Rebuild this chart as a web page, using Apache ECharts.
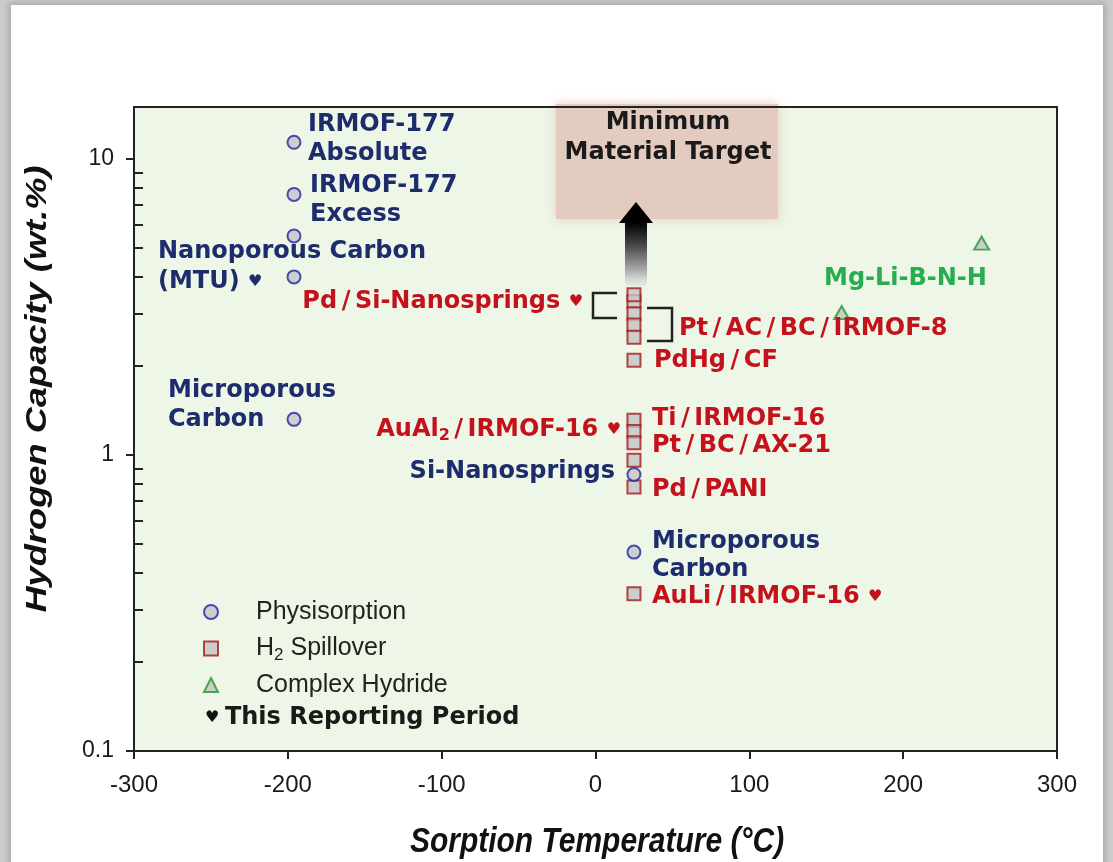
<!DOCTYPE html>
<html><head><meta charset="utf-8">
<script src="https://cdn.jsdelivr.net/npm/echarts@6/dist/echarts.min.js"></script>
<style>
html,body{margin:0;padding:0;width:1113px;height:862px;overflow:hidden;background:#cdcdcd;}
#panel{position:absolute;left:11px;top:5px;width:1092px;height:900px;background:#fff;box-shadow:0 0 6px 3px rgba(150,150,150,0.6);}
#chart{position:absolute;left:0;top:0;width:1113px;height:862px;}
</style></head><body><div id="panel"></div><div id="chart"></div>
<script>
// ---- data ----
const xTickValues = [-300, -200, -100, 0, 100, 200, 300];
const yMajorTicks = [0.1, 1, 10];
const yMinorTicks = [0.2, 0.3, 0.4, 0.5, 0.6, 0.7, 0.8, 0.9, 2, 3, 4, 5, 6, 7, 8, 9];
const seriesNames = ['Physisorption', 'H2 Spillover', 'Complex Hydride'];
const physisorptionT = [-196, -196, -196, -196, -196, 25, 25];
const physisorptionH = [11.4, 7.6, 5.5, 4.0, 1.32, 0.86, 0.47];
const spilloverT = [25, 25, 25, 25, 25, 25, 25, 25, 25, 25, 25, 25];
const spilloverH = [3.3, 3.48, 3.0, 2.75, 2.5, 2.09, 1.31, 1.2, 1.1, 0.96, 0.78, 0.34];
const hydrideT = [160, 251];
const hydrideH = [3.03, 5.2];

const pairs = (xs, ys) => xs.map((x, i) => [x, ys[i]]);

// ---- text helpers ----
const ctx = document.createElement('canvas').getContext('2d');
function fontStr(f) { return (f.style || 'normal') + ' ' + (f.weight || 'normal') + ' ' + f.size + 'px "' + f.family + '"'; }
function tw(f, s) { ctx.font = fontStr(f); return ctx.measureText(s).width; }
const BOLD = { family: 'DejaVu Sans', weight: 'bold', size: 24 };
const HEART = { family: 'DejaVu Sans', weight: 'bold', size: 16 };
const SUB = { family: 'DejaVu Sans', weight: 'bold', size: 16 };
const NAVY = '#1c2c6c', RED = '#c4121c', GREEN = '#27ad4f';
const SLASH_PAD = 4.5;

function textEl(x, y, s, f, color, extra) {
  return Object.assign({
    type: 'text', x: x, y: y, z: 20, silent: true,
    style: {
      text: s, fontSize: f.size, fontFamily: f.family, fontWeight: f.weight || 'normal',
      fontStyle: f.style || 'normal', fill: color,
      textAlign: 'left', textVerticalAlign: 'middle', align: 'left', verticalAlign: 'middle'
    }
  }, extra || {});
}
// parts: [text, font, color, dy]; slashes get extra room (Verdana-like wide slash)
function line(x, y, parts, align) {
  const pieces = [];
  parts.forEach(p => {
    p[0].split(/(\/)/).forEach(t => {
      if (t === '') return;
      if (t === '/') pieces.push({ t: t, f: p[1], c: p[2], dy: p[3] || 0, pad: SLASH_PAD });
      else pieces.push({ t: t, f: p[1], c: p[2], dy: p[3] || 0, pad: 0 });
    });
  });
  const total = pieces.reduce((a, p) => a + tw(p.f, p.t) + 2 * p.pad, 0);
  let cx = align === 'right' ? x - total : (align === 'center' ? x - total / 2 : x);
  return pieces.map(p => {
    const el = textEl(cx + p.pad, y + p.dy, p.t, p.f, p.c);
    cx += tw(p.f, p.t) + 2 * p.pad;
    return el;
  });
}

const annotations = [].concat(
  line(308, 125, [['IRMOF-177', BOLD, NAVY]]),
  line(308, 154, [['Absolute', BOLD, NAVY]]),
  line(310, 186, [['IRMOF-177', BOLD, NAVY]]),
  line(310, 215, [['Excess', BOLD, NAVY]]),
  line(158, 252, [['Nanoporous Carbon', BOLD, NAVY]]),
  line(158, 282, [['(MTU) ', BOLD, NAVY], ['♥', HEART, NAVY]]),
  line(168, 391, [['Microporous', BOLD, NAVY]]),
  line(168, 420, [['Carbon', BOLD, NAVY]]),
  line(583, 302, [['Pd/Si-Nanosprings ', BOLD, RED], ['♥', HEART, RED]], 'right'),
  line(679, 329, [['Pt/AC/BC/IRMOF-8', BOLD, RED]]),
  line(654, 361, [['PdHg/CF', BOLD, RED]]),
  line(621, 430, [['AuAl', BOLD, RED], ['2', SUB, RED, 6], ['/IRMOF-16 ', BOLD, RED], ['♥', HEART, RED]], 'right'),
  line(652, 419, [['Ti/IRMOF-16', BOLD, RED]]),
  line(652, 446, [['Pt/BC/AX-21', BOLD, RED]]),
  line(615, 472, [['Si-Nanosprings', BOLD, NAVY]], 'right'),
  line(652, 490, [['Pd/PANI', BOLD, RED]]),
  line(652, 542, [['Microporous', BOLD, NAVY]]),
  line(652, 570, [['Carbon', BOLD, NAVY]]),
  line(652, 597, [['AuLi/IRMOF-16 ', BOLD, RED], ['♥', HEART, RED]]),
  line(824, 279, [['Mg-Li-B-N-H', BOLD, GREEN]]),
  line(668, 123, [['Minimum', BOLD, '#1a1a1a']], 'center'),
  line(668, 153, [['Material Target', BOLD, '#1a1a1a']], 'center'),
  line(205, 718, [['♥ ', HEART, '#111'], ['This Reporting Period', BOLD, '#1a1a1a']])
);

const decorations = [
  { type: 'rect', z: 1, silent: true, shape: { x: 556, y: 104, width: 222, height: 115 },
    style: { fill: '#e3cbbf', shadowBlur: 10, shadowColor: '#e3cbbf' } },
  { type: 'rect', z: 6, silent: true, shape: { x: 625, y: 222, width: 22, height: 64 },
    style: { fill: { type: 'linear', x: 0, y: 0, x2: 0, y2: 1, colorStops: [
      { offset: 0, color: '#000' }, { offset: 0.35, color: '#444' }, { offset: 0.75, color: '#aaa' }, { offset: 1, color: 'rgba(220,220,220,0.4)' }] } } },
  { type: 'polygon', z: 6, silent: true, shape: { points: [[636, 202], [653, 223], [619, 223]] }, style: { fill: '#000' } },
  { type: 'polyline', z: 6, silent: true, shape: { points: [[617, 293], [593, 293], [593, 318], [617, 318]] }, style: { stroke: '#222', lineWidth: 2.5, fill: null } },
  { type: 'polyline', z: 6, silent: true, shape: { points: [[647, 308], [672, 308], [672, 341], [647, 341]] }, style: { stroke: '#222', lineWidth: 2.5, fill: null } },
  textEl(0, 0, 'Hydrogen Capacity (wt.%)', { family: 'Liberation Sans', weight: 'bold', style: 'italic', size: 29 }, '#111',
    { x: 38, y: 389, rotation: Math.PI / 2, scaleX: 1.25, style: { text: 'Hydrogen Capacity (wt.%)', fontSize: 29, fontFamily: 'Liberation Sans', fontWeight: 'bold', fontStyle: 'italic', fill: '#111', textAlign: 'center', align: 'center', textVerticalAlign: 'middle', verticalAlign: 'middle' } }),
  textEl(0, 0, 'Sorption Temperature (°C)', { family: 'Liberation Sans', weight: 'bold', style: 'italic', size: 30 }, '#111',
    { x: 597, y: 842, scaleY: 1.18, style: { text: 'Sorption Temperature (°C)', fontSize: 30, fontFamily: 'Liberation Sans', fontWeight: 'bold', fontStyle: 'italic', fill: '#111', textAlign: 'center', align: 'center', textVerticalAlign: 'middle', verticalAlign: 'middle' } })
];

const AX = '#222';
const chart = echarts.init(document.getElementById('chart'));
chart.setOption({
  animation: false,
  backgroundColor: 'transparent',
  grid: { left: 134, right: 56, top: 107, bottom: 111, show: true, backgroundColor: '#edf6e7', borderWidth: 0, z: 0 },
  xAxis: [
    { type: 'value', min: xTickValues[0], max: xTickValues[xTickValues.length - 1], interval: 100, z: 8,
      axisLine: { onZero: false, lineStyle: { color: AX, width: 2 } },
      axisTick: { length: 8, lineStyle: { color: AX, width: 2 } },
      axisLabel: { margin: 22, color: '#1a1a1a', fontSize: 24, fontFamily: 'Liberation Sans' },
      splitLine: { show: false } },
    { type: 'value', position: 'top', min: -300, max: 300, z: 8,
      axisLine: { onZero: false, lineStyle: { color: AX, width: 2 } },
      axisTick: { show: false }, axisLabel: { show: false }, splitLine: { show: false } }
  ],
  yAxis: [
    { type: 'log', logBase: 10, min: 0.1, max: 15, z: 8,
      axisLine: { onZero: false, lineStyle: { color: AX, width: 2 } },
      axisTick: { show: false },
      axisLabel: { margin: 20, color: '#1a1a1a', fontSize: 23, fontFamily: 'Liberation Sans', showMaxLabel: false,
        formatter: v => yMajorTicks.some(t => Math.abs(t - v) < 1e-9 * t) ? String(+v.toPrecision(3)) : '' },
      splitLine: { show: false }, minorTick: { show: false } },
    { type: 'log', logBase: 10, min: 0.1, max: 15, position: 'right', z: 8,
      axisLine: { onZero: false, lineStyle: { color: AX, width: 2 } },
      axisTick: { show: false }, axisLabel: { show: false }, splitLine: { show: false } }
  ],
  legend: {
    data: seriesNames, orient: 'vertical', left: 203, top: 597, padding: 0,
    itemWidth: 14, itemHeight: 14, itemGap: 6.5, selectedMode: false, symbolKeepAspect: true,
    textStyle: { fontFamily: 'Liberation Sans', fontSize: 25, color: '#222', lineHeight: 30, padding: [0, 0, 0, 33],
      rich: { n: { fontFamily: 'Liberation Sans', fontSize: 25, color: '#222', lineHeight: 30, verticalAlign: 'middle' },
              s: { fontFamily: 'Liberation Sans', fontSize: 17, color: '#222', lineHeight: 17, verticalAlign: 'bottom' } } },
    formatter: name => name === 'H2 Spillover' ? '{n|H}{s|2}{n| Spillover}' : name
  },
  graphic: { elements: decorations.concat(annotations) },
  series: [
    { name: seriesNames[0], type: 'scatter', symbol: 'circle', symbolSize: 13, z: 5,
      itemStyle: { color: '#c4c4c8', borderColor: '#2323a0', borderWidth: 2 },
      data: pairs(physisorptionT, physisorptionH) },
    { name: seriesNames[1], type: 'scatter', symbol: 'rect', symbolSize: 13, z: 4,
      itemStyle: { color: '#c4c4c4', borderColor: '#a21a1e', borderWidth: 2 },
      data: pairs(spilloverT, spilloverH) },
    { name: seriesNames[2], type: 'scatter', symbol: 'triangle', symbolSize: [15, 13], z: 5,
      itemStyle: { color: '#c4c4c4', borderColor: '#26962f', borderWidth: 2 },
      data: pairs(hydrideT, hydrideH) },
    { name: 'yTicks', type: 'custom', silent: true, z: 9, clip: false,
      data: yMinorTicks.map(v => [xTickValues[0], v, 0]).concat(yMajorTicks.map(v => [xTickValues[0], v, 1])),
      renderItem: function (params, api) {
        const p = api.coord([api.value(0), api.value(1)]);
        const major = api.value(2) === 1;
        const y = Math.round(p[1]);
        return { type: 'line', silent: true,
          shape: major ? { x1: p[0] - 8, y1: y, x2: p[0], y2: y } : { x1: p[0], y1: y, x2: p[0] + 9, y2: y },
          style: { stroke: AX, lineWidth: 2 } };
      } }
  ]
});
</script>
</body></html>
